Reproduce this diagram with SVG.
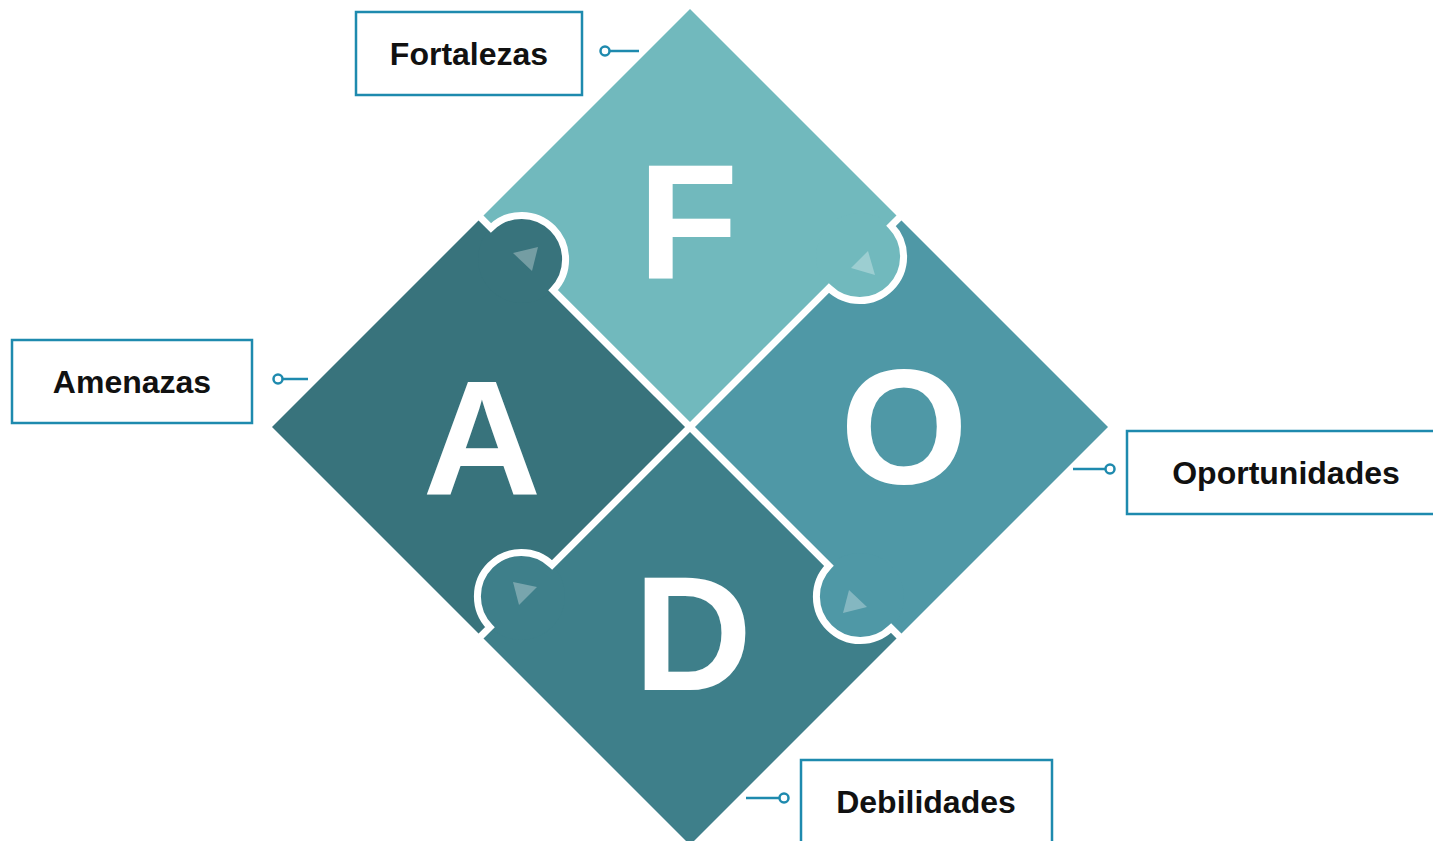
<svg xmlns="http://www.w3.org/2000/svg" width="1433" height="841" viewBox="0 0 1433 841">
<style>
.box{fill:#fff;stroke:#1E8AAE;stroke-width:2.5}
.lbl{font-family:"Liberation Sans",Arial,sans-serif;font-weight:bold;font-size:32px;fill:#111;text-anchor:middle}
.big{font-family:"Liberation Sans",Arial,sans-serif;font-weight:bold;font-size:164px;fill:#fff;text-anchor:middle}
.sep{fill:none;stroke:#fff;stroke-width:7}
.tri{fill:#fff;fill-opacity:0.3}
.lead{stroke:#1E8AAE;stroke-width:2.5;fill:none}
.dot{fill:#fff;stroke:#1E8AAE;stroke-width:2.5}
</style>
<rect width="1433" height="841" fill="#fff"/>
<g id="quadrants">
<g id="node-F"><polygon points="690,9 899,218 690,427 481,218" fill="#71B9BD"/></g>
<g id="node-O"><polygon points="899,218 1108,427 899,636 690,427" fill="#4F98A6"/></g>
<g id="node-D"><polygon points="690,427 899,636 690,845 481,636" fill="#3E7F8A"/></g>
<g id="node-A"><polygon points="481,218 690,427 481,636 272,427" fill="#38737C"/></g>
<g id="knobs">
<circle cx="522" cy="259" r="44" fill="#38737C"/>
<circle cx="860" cy="257" r="44" fill="#71B9BD"/>
<circle cx="860" cy="597" r="44" fill="#4F98A6"/>
<circle cx="521" cy="596" r="44" fill="#3E7F8A"/>
</g>
<g id="separators">
<path class="sep" d="M474,211 L490.89,227.89 A44,44 0 0 1 553.11,290.11 L690,427"/>
<path class="sep" d="M906,211 L891.11,225.89 A44,44 0 0 1 828.89,288.11 L690,427"/>
<path class="sep" d="M906,643 L891.11,628.11 A44,44 0 0 1 828.89,565.89 L690,427"/>
<path class="sep" d="M474,643 L489.89,627.11 A44,44 0 0 1 552.11,564.89 L690,427"/>
</g>
<g id="arrows">
<polygon class="tri" points="513,253 538,247 532,271"/>
<polygon class="tri" points="851,268 868,251 875,275"/>
<polygon class="tri" points="513,582 537,587 519,605"/>
<polygon class="tri" points="849,590 867,607 843,613"/>
</g>
<text class="big" x="688" y="278">F</text>
<text class="big" x="482" y="495">A</text>
<text class="big" x="904" y="483">O</text>
<text class="big" x="693" y="690">D</text>
</g>
<g id="node-fortalezas"><rect class="box" x="356" y="12" width="226" height="83"/><text class="lbl" x="469" y="65">Fortalezas</text></g>
<g id="node-amenazas"><rect class="box" x="12" y="340" width="240" height="83"/><text class="lbl" x="132" y="393">Amenazas</text></g>
<g id="node-oportunidades"><rect class="box" x="1127" y="431" width="330" height="83"/><text class="lbl" x="1286" y="484">Oportunidades</text></g>
<g id="node-debilidades"><rect class="box" x="801" y="760" width="251" height="100"/><text class="lbl" x="926" y="813">Debilidades</text></g>
<g id="connectors">
<line class="lead" x1="610" y1="51" x2="639" y2="51"/><circle class="dot" cx="605" cy="51" r="4.5"/>
<line class="lead" x1="283" y1="379" x2="308" y2="379"/><circle class="dot" cx="278" cy="379" r="4.5"/>
<line class="lead" x1="1073" y1="469" x2="1105" y2="469"/><circle class="dot" cx="1110" cy="469" r="4.5"/>
<line class="lead" x1="746" y1="798" x2="779" y2="798"/><circle class="dot" cx="784" cy="798" r="4.5"/>
</g>
</svg>
